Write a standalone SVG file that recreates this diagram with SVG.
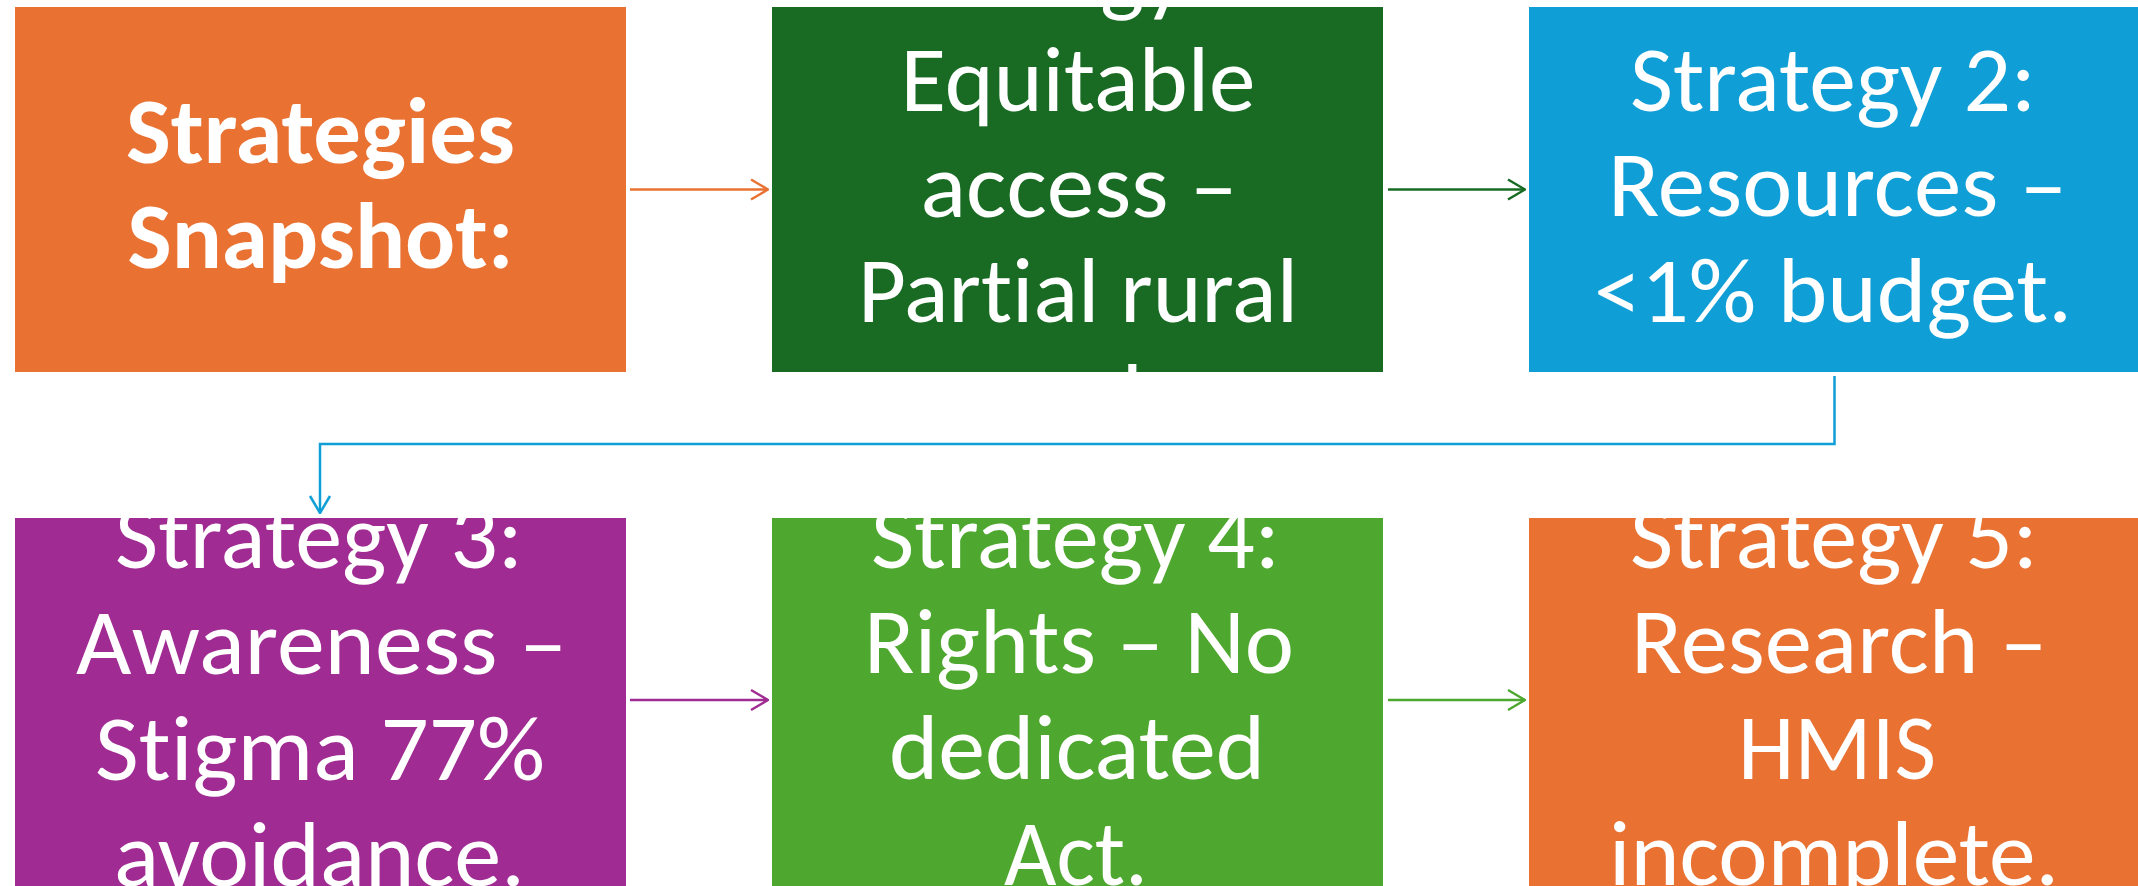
<svg xmlns="http://www.w3.org/2000/svg" width="2138" height="886" viewBox="0 0 2138 886">
<style>
.t{fill:#FFFFFF;font-family:Calibri,Carlito,"Liberation Sans",Arial,sans-serif;font-size:93px;text-anchor:middle;font-variant-ligatures:none;font-feature-settings:"liga" 0,"clig" 0}
.b{font-weight:bold}
.c{fill:none;stroke-width:2.5}
</style>
<defs>
<marker id="mOr" markerUnits="userSpaceOnUse" viewBox="0 0 20 24" refX="19" refY="12" markerWidth="20" markerHeight="24" orient="auto"><path d="M2,2 L19,12 L2,22" fill="none" stroke="#E97132" stroke-width="2.5"/></marker>
<marker id="mDg" markerUnits="userSpaceOnUse" viewBox="0 0 20 24" refX="19" refY="12" markerWidth="20" markerHeight="24" orient="auto"><path d="M2,2 L19,12 L2,22" fill="none" stroke="#196B24" stroke-width="2.5"/></marker>
<marker id="mBl" markerUnits="userSpaceOnUse" viewBox="0 0 20 24" refX="19" refY="12" markerWidth="20" markerHeight="24" orient="auto"><path d="M2,2 L19,12 L2,22" fill="none" stroke="#0F9ED5" stroke-width="2.5"/></marker>
<marker id="mPu" markerUnits="userSpaceOnUse" viewBox="0 0 20 24" refX="19" refY="12" markerWidth="20" markerHeight="24" orient="auto"><path d="M2,2 L19,12 L2,22" fill="none" stroke="#A02B93" stroke-width="2.5"/></marker>
<marker id="mGr" markerUnits="userSpaceOnUse" viewBox="0 0 20 24" refX="19" refY="12" markerWidth="20" markerHeight="24" orient="auto"><path d="M2,2 L19,12 L2,22" fill="none" stroke="#4EA72E" stroke-width="2.5"/></marker>
</defs>
<rect width="2138" height="886" fill="#FFFFFF"/>
<g id="node-snapshot">
<rect x="15" y="7" width="611" height="365" fill="#E97132"/>
<text class="t b" x="320.5" y="163" textLength="389" lengthAdjust="spacingAndGlyphs">Strategies</text>
<text class="t b" x="320.5" y="268" textLength="386" lengthAdjust="spacingAndGlyphs">Snapshot:</text>
</g>
<g id="node-strategy1">
<rect x="772" y="7" width="611" height="365" fill="#196B24"/>
<text class="t" x="1077" y="4" textLength="406" lengthAdjust="spacingAndGlyphs">Strategy 1:</text>
<text class="t" x="1078" y="111" textLength="355" lengthAdjust="spacingAndGlyphs">Equitable</text>
<text class="t" x="1079" y="217" textLength="317" lengthAdjust="spacingAndGlyphs">access –</text>
<text class="t" x="1078" y="322" textLength="440" lengthAdjust="spacingAndGlyphs">Partial rural</text>
<text class="t" x="1077" y="428" textLength="235" lengthAdjust="spacingAndGlyphs">reach.</text>
</g>
<g id="node-strategy2">
<rect x="1529" y="7" width="611" height="365" fill="#0F9ED5"/>
<text class="t" x="1833" y="111" textLength="406" lengthAdjust="spacingAndGlyphs">Strategy 2:</text>
<text class="t" x="1837.5" y="216" textLength="459" lengthAdjust="spacingAndGlyphs">Resources –</text>
<text class="t" x="1833" y="322" textLength="478" lengthAdjust="spacingAndGlyphs">&lt;1% budget.</text>
</g>
<g id="node-strategy3">
<rect x="15" y="518" width="611" height="368" fill="#A02B93"/>
<text class="t" x="319" y="568" textLength="408" lengthAdjust="spacingAndGlyphs">Strategy 3:</text>
<text class="t" x="321.5" y="674" textLength="491" lengthAdjust="spacingAndGlyphs">Awareness –</text>
<text class="t" x="320" y="780" textLength="450" lengthAdjust="spacingAndGlyphs">Stigma 77%</text>
<text class="t" x="319.5" y="886" textLength="411" lengthAdjust="spacingAndGlyphs">avoidance.</text>
</g>
<g id="node-strategy4">
<rect x="772" y="518" width="611" height="368" fill="#4EA72E"/>
<text class="t" x="1075.5" y="568" textLength="409" lengthAdjust="spacingAndGlyphs">Strategy 4:</text>
<text class="t" x="1079" y="673" textLength="430" lengthAdjust="spacingAndGlyphs">Rights – No</text>
<text class="t" x="1077" y="779" textLength="376" lengthAdjust="spacingAndGlyphs">dedicated</text>
<text class="t" x="1076" y="885" textLength="144" lengthAdjust="spacingAndGlyphs">Act.</text>
</g>
<g id="node-strategy5">
<rect x="1529" y="518" width="611" height="368" fill="#E97132"/>
<text class="t" x="1834" y="568" textLength="408" lengthAdjust="spacingAndGlyphs">Strategy 5:</text>
<text class="t" x="1839" y="673" textLength="416" lengthAdjust="spacingAndGlyphs">Research –</text>
<text class="t" x="1837" y="779" textLength="198" lengthAdjust="spacingAndGlyphs">HMIS</text>
<text class="t" x="1834" y="885" textLength="450" lengthAdjust="spacingAndGlyphs">incomplete.</text>
</g>
<g id="connectors">
<path class="c" d="M630,189.5 H768" stroke="#E97132" marker-end="url(#mOr)"/>
<path class="c" d="M1388,189.5 H1525" stroke="#196B24" marker-end="url(#mDg)"/>
<path class="c" d="M1834.5,376 V444 H320 V513" stroke="#0F9ED5" marker-end="url(#mBl)"/>
<path class="c" d="M630,700 H768" stroke="#A02B93" marker-end="url(#mPu)"/>
<path class="c" d="M1388,700 H1525" stroke="#4EA72E" marker-end="url(#mGr)"/>
</g>
</svg>
